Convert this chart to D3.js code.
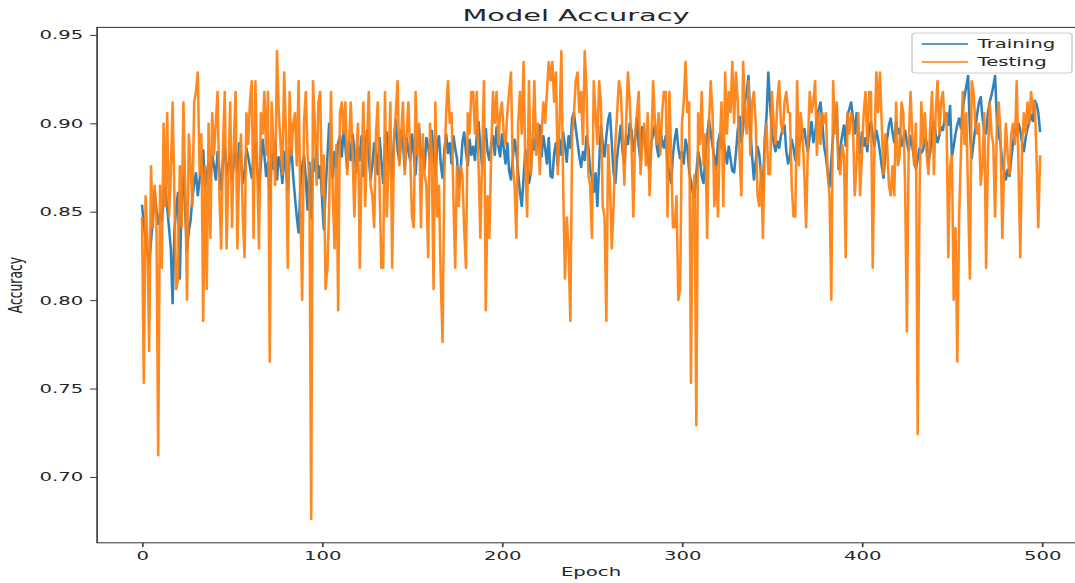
<!DOCTYPE html>
<html>
<head>
<meta charset="utf-8">
<script src="https://cdn.jsdelivr.net/npm/d3@7"></script>
<style>
  body { margin: 0; background: #fff; overflow: hidden; }
  svg { display: block; }
  text { font-family: "DejaVu Sans", sans-serif; fill: #262626; }
</style>
</head>
<body>
<script>
// accuracy per epoch
var trainAcc = [
  .854,.843,.834,.827,.821,.833,.846,.862,.851,.843,
  .849,.845,.856,.864,.852,.841,.829,.798,.839,.852,
  .861,.812,.858,.870,.849,.828,.839,.845,.858,.866,
  .872,.859,.868,.877,.885,.864,.871,.878,.869,.882,
  .876,.868,.884,.873,.862,.879,.887,.871,.876,.883,
  .868,.877,.884,.872,.889,.879,.866,.873,.886,.881,
  .875,.869,.880,.889,.874,.862,.877,.891,.882,.870,
  .878,.856,.883,.874,.890,.868,.881,.877,.866,.884,
  .873,.862,.879,.886,.870,.858,.847,.838,.864,.876,
  .882,.869,.851,.878,.846,.880,.873,.887,.869,.876,
  .858,.840,.862,.881,.900,.878,.869,.884,.875,.889,
  .893,.881,.896,.887,.874,.890,.879,.894,.885,.872,
  .887,.879,.893,.870,.884,.896,.881,.868,.876,.889,
  .883,.871,.892,.879,.866,.886,.895,.877,.884,.869,
  .891,.902,.885,.878,.896,.888,.874,.892,.884,.879,
  .894,.883,.871,.889,.897,.880,.886,.874,.892,.887,
  .879,.896,.884,.871,.888,.893,.877,.869,.885,.894,
  .883,.889,.877,.893,.886,.880,.864,.872,.889,.895,
  .884,.876,.891,.882,.887,.879,.893,.901,.886,.876,
  .890,.897,.884,.879,.888,.893,.882,.898,.887,.881,
  .894,.886,.877,.889,.873,.868,.880,.891,.884,.872,
  .861,.853,.869,.885,.878,.866,.872,.891,.885,.894,
  .887,.899,.881,.893,.886,.877,.892,.870,.869,.883,
  .889,.876,.891,.882,.895,.887,.878,.893,.886,.903,
  .906,.897,.889,.881,.875,.884,.879,.893,.887,.874,
  .869,.861,.872,.853,.877,.899,.888,.881,.893,.902,
  .906,.889,.872,.866,.881,.890,.899,.884,.877,.893,
  .888,.900,.896,.884,.891,.903,.887,.879,.898,.893,
  .886,.880,.874,.889,.894,.899,.887,.881,.896,.890,
  .886,.893,.879,.871,.866,.882,.891,.897,.886,.880,
  .884,.877,.891,.886,.873,.867,.861,.858,.872,.884,
  .879,.870,.866,.881,.893,.902,.895,.887,.881,.874,
  .889,.894,.886,.891,.884,.877,.887,.880,.873,.872,
  .883,.896,.904,.889,.897,.912,.918,.927,.897,.881,
  .868,.879,.887,.882,.871,.862,.891,.904,.929,.910,
  .895,.889,.884,.890,.886,.893,.897,.899,.884,.877,
  .882,.891,.886,.879,.893,.887,.891,.896,.897,.889,
  .884,.893,.901,.889,.895,.903,.908,.912,.900,.887,
  .881,.872,.864,.879,.893,.901,.910,.874,.886,.893,
  .899,.887,.905,.908,.912,.903,.894,.906,.889,.883,
  .895,.887,.892,.884,.898,.901,.893,.887,.896,.891,
  .884,.876,.869,.882,.891,.899,.903,.895,.889,.901,
  .894,.897,.887,.891,.896,.889,.884,.893,.887,.880,
  .874,.880,.886,.883,.885,.892,.889,.878,.884,.897,
  .901,.894,.889,.893,.898,.896,.903,.906,.899,.910,
  .881,.887,.894,.899,.903,.897,.908,.915,.921,.927,
  .896,.880,.889,.897,.905,.912,.915,.903,.896,.894,
  .906,.912,.916,.921,.927,.902,.893,.889,.877,.873,
  .868,.874,.870,.880,.889,.897,.893,.900,.896,.889,
  .884,.892,.897,.901,.905,.901,.913,.911,.906,.895
];

var testAcc = [
  .847,.753,.859,.835,.771,.876,.841,.865,.847,.712,
  .865,.818,.900,.853,.906,.847,.871,.912,.859,.806,
  .812,.876,.841,.912,.865,.800,.894,.876,.853,.912,
  .918,.929,.871,.894,.788,.876,.806,.900,.835,.906,
  .882,.900,.918,.859,.829,.888,.918,.829,.871,.912,
  .841,.888,.918,.829,.876,.894,.847,.824,.906,.888,
  .912,.924,.835,.924,.876,.829,.906,.894,.918,.882,
  .918,.765,.912,.888,.865,.941,.906,.888,.871,.929,
  .894,.818,.918,.882,.900,.906,.876,.924,.853,.800,
  .900,.918,.882,.871,.676,.924,.900,.865,.912,.918,
  .859,.882,.806,.818,.853,.918,.859,.829,.888,.794,
  .906,.912,.894,.912,.871,.888,.912,.882,.847,.882,
  .900,.818,.876,.912,.853,.888,.918,.865,.859,.841,
  .894,.912,.865,.818,.818,.918,.847,.876,.912,.818,
  .888,.906,.924,.876,.894,.912,.871,.894,.912,.882,
  .847,.841,.918,.882,.900,.841,.894,.871,.865,.824,
  .900,.882,.806,.912,.847,.865,.812,.776,.871,.906,
  .924,.900,.906,.859,.818,.876,.853,.876,.871,.841,
  .818,.906,.894,.918,.918,.894,.918,.876,.835,.882,
  .924,.794,.859,.835,.882,.918,.900,.918,.888,.906,
  .912,.894,.888,.906,.918,.929,.876,.865,.835,.900,
  .918,.894,.935,.876,.847,.924,.871,.888,.924,.882,
  .900,.871,.894,.912,.900,.918,.935,.924,.935,.912,
  .929,.871,.900,.941,.865,.812,.847,.829,.788,.894,
  .906,.924,.929,.906,.918,.888,.941,.918,.871,.865,
  .835,.924,.906,.888,.924,.912,.853,.847,.788,.888,
  .865,.829,.853,.888,.906,.924,.918,.894,.865,.900,
  .929,.912,.888,.847,.894,.906,.918,.871,.888,.900,
  .876,.906,.859,.888,.924,.900,.888,.906,.882,.906,
  .918,.918,.847,.918,.882,.841,.841,.859,.800,.806,
  .900,.912,.935,.906,.912,.753,.859,.871,.729,.906,
  .888,.918,.876,.894,.835,.900,.924,.906,.853,.876,
  .847,.888,.912,.853,.929,.894,.918,.906,.935,.900,
  .929,.912,.882,.859,.935,.906,.894,.924,.882,.912,
  .918,.900,.859,.853,.876,.835,.888,.900,.871,.871,
  .918,.900,.888,.912,.924,.900,.894,.912,.918,.906,
  .906,.865,.847,.847,.924,.876,.906,.894,.871,.841,
  .888,.918,.906,.912,.924,.882,.906,.888,.906,.900,
  .906,.871,.859,.800,.924,.894,.912,.876,.871,.888,
  .882,.824,.906,.894,.906,.900,.859,.876,.906,.859,
  .882,.906,.918,.888,.918,.918,.818,.888,.929,.906,
  .929,.900,.871,.894,.888,.865,.859,.876,.859,.912,
  .876,.882,.912,.906,.865,.782,.888,.918,.894,.876,
  .900,.724,.859,.912,.888,.906,.882,.871,.900,.918,
  .871,.906,.924,.894,.912,.918,.900,.906,.824,.876,
  .882,.800,.841,.765,.847,.882,.918,.888,.906,.859,
  .812,.924,.918,.900,.894,.900,.865,.876,.906,.818,
  .882,.912,.894,.888,.847,.900,.912,.894,.835,.876,
  .900,.882,.871,.894,.900,.888,.924,.876,.824,.888,
  .906,.894,.912,.900,.918,.906,.912,.882,.841,.882
];

var seriesNames = ["Training", "Testing"];
var seriesColors = ["#1f77b4", "#ff7f0e"];
var xTicks = [0, 100, 200, 300, 400, 500];
var yTicks = [0.70, 0.75, 0.80, 0.85, 0.90, 0.95];

var W = 1075, H = 583;
// the reference picture is stretched sideways, so draw in a narrower
// space and let the viewBox widen everything (text included)
var stretch = 1.6;
var vw = W / stretch;
var fs = 12.3;

var box = {left: 97.1 / stretch, right: 1085 / stretch, top: 27.4, bottom: 542.8};

var svg = d3.select("body").append("svg")
  .attr("width", W)
  .attr("height", H)
  .attr("viewBox", "0 0 " + vw + " " + H)
  .attr("preserveAspectRatio", "none");

var n = trainAcc.length;
var xPad = 0.05 * (n - 1);
var x = d3.scaleLinear()
  .domain([-xPad, n - 1 + xPad])
  .range([box.left, box.right]);

var ext = d3.extent(trainAcc.concat(testAcc));
var yPad = 0.05 * (ext[1] - ext[0]);
var y = d3.scaleLinear()
  .domain([ext[0] - yPad, ext[1] + yPad])
  .range([box.bottom, box.top]);

svg.append("clipPath").attr("id", "plot-clip")
  .append("rect")
    .attr("x", box.left).attr("y", box.top)
    .attr("width", box.right - box.left)
    .attr("height", box.bottom - box.top);

var line = d3.line()
  .x(function(d, i) { return x(i); })
  .y(function(d) { return y(d); });

var plot = svg.append("g").attr("clip-path", "url(#plot-clip)");

[trainAcc, testAcc].forEach(function(s, k) {
  plot.append("path")
    .datum(s)
    .attr("fill", "none")
    .attr("stroke", seriesColors[k])
    .attr("stroke-width", 1.6)
    .attr("stroke-opacity", 0.92)
    .attr("stroke-linejoin", "round")
    .attr("d", line);
});

// axes
var xAxis = svg.append("g")
  .attr("transform", "translate(0," + box.bottom + ")")
  .call(d3.axisBottom(x).tickValues(xTicks).tickSize(4.3).tickPadding(4.3));

var yAxis = svg.append("g")
  .attr("transform", "translate(" + box.left + ",0)")
  .call(d3.axisLeft(y).tickValues(yTicks).tickFormat(d3.format(".2f"))
    .tickSize(4.3).tickPadding(4.3));

[xAxis, yAxis].forEach(function(a) {
  a.select(".domain").remove();
  a.selectAll(".tick line").attr("stroke", "#333").attr("stroke-width", 1);
  a.selectAll(".tick text")
    .attr("font-family", "DejaVu Sans")
    .attr("font-size", fs)
    .attr("fill", "#262626");
});

// frame
svg.append("rect")
  .attr("x", box.left).attr("y", box.top)
  .attr("width", box.right - box.left)
  .attr("height", box.bottom - box.top)
  .attr("fill", "none")
  .attr("stroke", "#333")
  .attr("stroke-width", 1);

var midX = (box.left + box.right) / 2;

// title is a little wider than the other text in the picture
svg.append("text")
  .attr("transform", "translate(" + (576 / stretch) + ",21) scale(1.2,1)")
  .attr("text-anchor", "middle")
  .attr("font-size", 15)
  .text("Model Accuracy");

svg.append("text")
  .attr("x", midX)
  .attr("y", 576)
  .attr("text-anchor", "middle")
  .attr("font-size", fs)
  .text("Epoch");

svg.append("text")
  .attr("transform", "translate(" + (22 / stretch) + "," + ((box.top + box.bottom) / 2) + ") rotate(-90)")
  .attr("text-anchor", "middle")
  .attr("font-size", fs)
  .text("Accuracy");

// legend
var leg = svg.append("g")
  .attr("transform", "translate(" + (912 / stretch) + ",33)");

leg.append("rect")
  .attr("width", (1072 - 912) / stretch)
  .attr("height", 40)
  .attr("rx", 2)
  .attr("fill", "#fff")
  .attr("fill-opacity", 0.8)
  .attr("stroke", "#d0d0d0")
  .attr("stroke-width", 1);

seriesNames.forEach(function(name, k) {
  var row = leg.append("g")
    .attr("transform", "translate(0," + (11 + k * 18) + ")");
  row.append("line")
    .attr("x1", 6).attr("x2", 35)
    .attr("stroke", seriesColors[k])
    .attr("stroke-width", 1.6);
  row.append("text")
    .attr("x", 41)
    .attr("y", 4.4)
    .attr("font-size", fs)
    .text(name);
});
</script>
</body>
</html>
